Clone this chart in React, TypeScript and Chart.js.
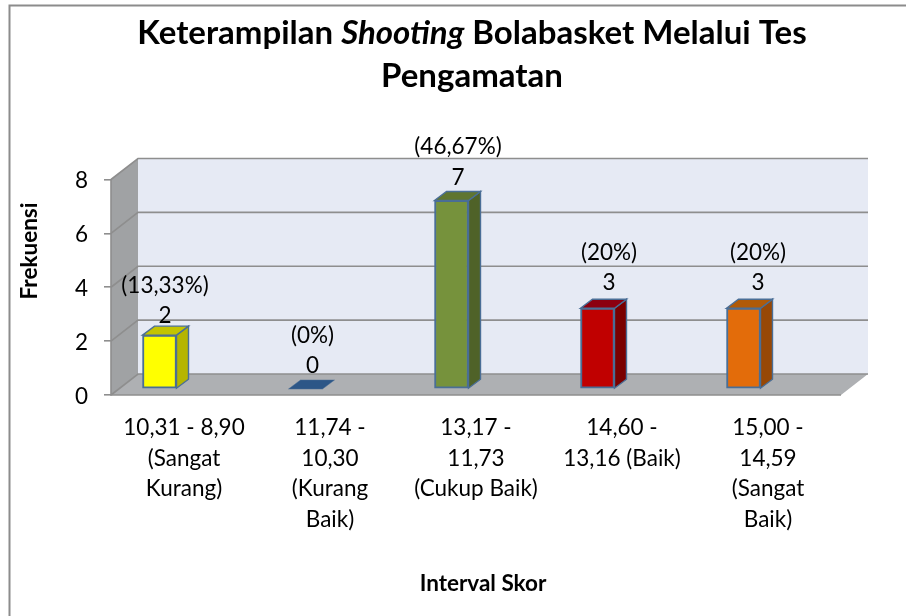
import React, { useEffect, useRef } from "react";
import { Chart, registerables } from "chart.js";

Chart.register(...registerables);

const categories: string[][] = [
  ["10,31 - 8,90", "(Sangat", "Kurang)"],
  ["11,74 -", "10,30", "(Kurang", "Baik)"],
  ["13,17 -", "11,73", "(Cukup Baik)"],
  ["14,60 -", "13,16 (Baik)"],
  ["15,00 -", "14,59", "(Sangat", "Baik)"],
];
const frequencies = [2, 0, 7, 3, 3];
const percentLabels = ["(13,33%)", "(0%)", "(46,67%)", "(20%)", "(20%)"];
const yTicks = [0, 2, 4, 6, 8];
const frontColors = ["#FFFF00", "#1F497D", "#76923C", "#C00000", "#E36C0A"];
const sideColors = ["#B5B500", "#1F497D", "#4F6228", "#7A0000", "#974806"];
const topColors = ["#C4C400", "#2C5687", "#5F7530", "#8C0010", "#B05A08"];

const titleParts = [
  { text: "Keterampilan ", style: "bold" },
  { text: "Shooting", style: "italic bold" },
  { text: " Bolabasket Melalui Tes", style: "bold" },
];
const titleLine2 = "Pengamatan";
const xTitle = "Interval Skor";
const yTitle = "Frekuensi";

const FONT = "Lato";
const W = 906;
const H = 616;
const DEPTH_X = 27;
const DEPTH_Y = 21;
const BAR_SHIFT_X = -24.5;
const BAR_SHIFT_Y = -6;
const BAR_DX = 12;
const BAR_DY = 9;
const labelNudge = [
  [5.5, 0],
  [7, 0],
  [6.5, 0],
  [11.5, 0],
  [14.5, 0],
];
const valueGap = [19, 23, 23, 25, 25];

const poly = (ctx: CanvasRenderingContext2D, pts: number[][], fill: string, stroke?: string, lw = 1) => {
  ctx.beginPath();
  pts.forEach(([x, y], i) => (i ? ctx.lineTo(x, y) : ctx.moveTo(x, y)));
  ctx.closePath();
  ctx.fillStyle = fill;
  ctx.fill();
  if (stroke) {
    ctx.strokeStyle = stroke;
    ctx.lineWidth = lw;
    ctx.stroke();
  }
};

const scene3d = {
  id: "scene3d",
  beforeDatasetsDraw(chart: any) {
    const { ctx, chartArea: a, scales } = chart;
    const y = scales.y;
    const l = a.left, r = a.right, t = a.top, b = a.bottom;
    const dx = DEPTH_X, dy = DEPTH_Y;
    ctx.save();
    poly(ctx, [[l + dx, t - dy], [r + dx, t - dy], [r + dx, b - dy], [l + dx, b - dy]], "#E6EAF4");
    poly(ctx, [[l, t], [l + dx, t - dy], [l + dx, b - dy], [l, b]], "#A0A2A4");
    poly(ctx, [[l, b], [r, b], [r + dx, b - dy], [l + dx, b - dy]], "#AEB0B3");
    ctx.strokeStyle = "#8E8E8E";
    ctx.lineWidth = 1.6;
    yTicks.forEach((v) => {
      const p = y.getPixelForValue(v);
      ctx.beginPath();
      ctx.moveTo(l, p);
      ctx.lineTo(l + dx, p - dy);
      ctx.lineTo(r + dx, p - dy);
      ctx.stroke();
    });
    ctx.beginPath();
    ctx.moveTo(l, t);
    ctx.lineTo(l, b);
    ctx.lineTo(r, b);
    ctx.stroke();
    ctx.restore();
    ctx.save();
    ctx.translate(BAR_SHIFT_X, BAR_SHIFT_Y);
  },
  afterDatasetsDraw(chart: any) {
    const { ctx } = chart;
    const meta = chart.getDatasetMeta(0);
    const edge = "#4A6E96";
    meta.data.forEach((bar: any, i: number) => {
      const half = bar.width / 2;
      const x0 = bar.x - half, x1 = bar.x + half;
      const top = bar.y, base = bar.base;
      if (frequencies[i] > 0) {
        poly(ctx, [[x1, top], [x1 + BAR_DX, top - BAR_DY], [x1 + BAR_DX, base - BAR_DY], [x1, base]], sideColors[i], edge, 1.4);
      }
      poly(ctx, [[x0, top], [x1, top], [x1 + BAR_DX, top - BAR_DY], [x0 + BAR_DX, top - BAR_DY]], topColors[i], edge, frequencies[i] > 0 ? 1.4 : 0.5);
    });
    ctx.restore();

    // value and percentage labels
    ctx.save();
    ctx.fillStyle = "#000";
    ctx.textAlign = "center";
    ctx.textBaseline = "middle";
    ctx.font = `22.5px ${FONT}`;
    meta.data.forEach((bar: any, i: number) => {
      const x = bar.x + BAR_SHIFT_X + labelNudge[i][0];
      const yv = bar.y + BAR_SHIFT_Y - valueGap[i];
      ctx.fillText(String(frequencies[i]), x, yv);
      ctx.fillText(percentLabels[i], x, yv - 30.5);
    });
    ctx.restore();
  },
  afterDraw(chart: any) {
    const { ctx } = chart;
    ctx.save();
    // outer frame
    ctx.strokeStyle = "#8C8C8C";
    ctx.lineWidth = 2;
    ctx.beginPath();
    ctx.moveTo(9.5, H);
    ctx.lineTo(9.5, 5.5);
    ctx.lineTo(W, 5.5);
    ctx.stroke();

    // title with a mixed-style first line
    ctx.fillStyle = "#000";
    ctx.textBaseline = "alphabetic";
    ctx.textAlign = "left";
    const size = 33;
    const widths = titleParts.map((p) => {
      ctx.font = `${p.style} ${size}px ${FONT}`;
      return ctx.measureText(p.text).width;
    });
    let x = 472 - widths.reduce((a, c) => a + c, 0) / 2;
    titleParts.forEach((p, i) => {
      ctx.font = `${p.style} ${size}px ${FONT}`;
      ctx.fillText(p.text, x, 44);
      x += widths[i];
    });
    ctx.textAlign = "center";
    ctx.font = `bold ${size}px ${FONT}`;
    ctx.fillText(titleLine2, 472, 87);

    // axis titles
    ctx.textBaseline = "middle";
    ctx.font = `bold 22.5px ${FONT}`;
    ctx.fillText(xTitle, 483, 584);
    ctx.translate(30, 251);
    ctx.rotate(-Math.PI / 2);
    ctx.fillText(yTitle, 0, 0);
    ctx.restore();
  },
};

export default function App() {
  const ref = useRef<HTMLCanvasElement>(null);
  useEffect(() => {
    document.body.style.margin = "0";
    const chart = new Chart(ref.current as HTMLCanvasElement, {
      type: "bar",
      data: {
        labels: categories as any,
        datasets: [
          {
            data: frequencies,
            backgroundColor: frontColors,
            borderColor: "#4A6E96",
            borderWidth: 2,
            borderSkipped: false,
            barThickness: 34,
            clip: false,
          } as any,
        ],
      },
      options: {
        responsive: false,
        animation: false,
        layout: { padding: { top: 179.5, right: 65, left: 0, bottom: 0 } },
        plugins: { legend: { display: false }, tooltip: { enabled: false }, title: { display: false } },
        scales: {
          x: {
            grid: { display: false },
            border: { display: false },
            afterFit: (s: any) => {
              s.height = 221;
            },
            ticks: {
              autoSkip: false,
              maxRotation: 0,
              minRotation: 0,
              padding: 9.5,
              color: "#000",
              font: { family: FONT, size: 22.5, lineHeight: 30.6 / 22.5 },
            },
          },
          y: {
            min: 0,
            max: 8,
            afterFit: (s: any) => {
              s.width = 111;
            },
            grid: { drawOnChartArea: false, drawTicks: true, tickLength: 7, color: "#8E8E8E", lineWidth: 1.6 },
            border: { display: false },
            afterBuildTicks: (s: any) => {
              s.ticks = yTicks.map((value) => ({ value }));
            },
            ticks: {
              padding: 16,
              labelOffset: 1.5,
              color: "#000",
              font: { family: FONT, size: 22.5 },
            },
          },
        },
      },
      plugins: [scene3d as any],
    });
    return () => chart.destroy();
  }, []);
  return <canvas ref={ref} width={W} height={H} style={{ display: "block", width: W, height: H }} />;
}
